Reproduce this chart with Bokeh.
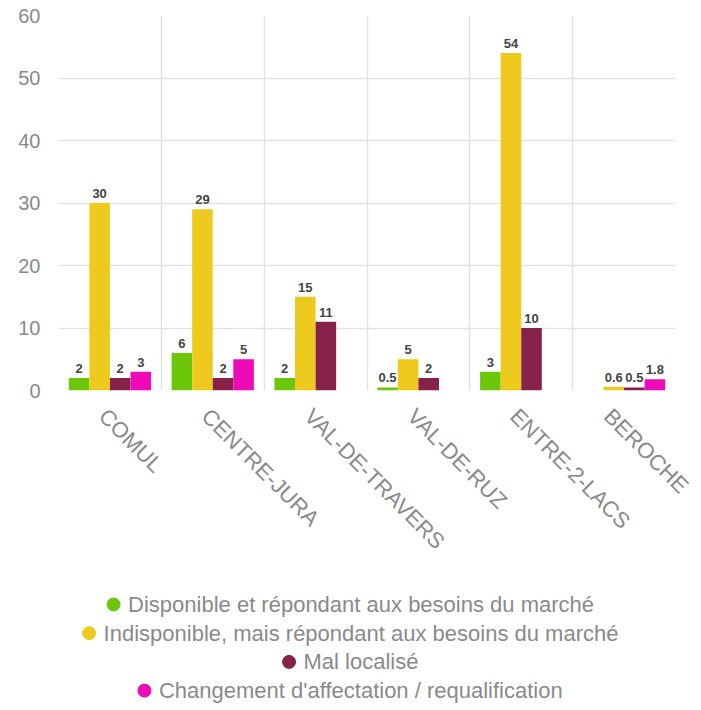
import math
from bokeh.plotting import figure
from bokeh.layouts import column
from bokeh.models import (ColumnDataSource, FixedTicker, LabelSet, Range1d)
from bokeh.core.properties import value
from bokeh.embed import file_html
from bokeh.resources import INLINE
from bokeh.transform import dodge

regions = ["COMUL", "CENTRE-JURA", "VAL-DE-TRAVERS", "VAL-DE-RUZ",
           "ENTRE-2-LACS", "BEROCHE"]
disponible = [2, 6, 2, 0.5, 3, None]
indisponible = [30, 29, 15, 5, 54, 0.6]
mal_localise = [2, 2, 11, 2, 10, 0.5]
changement = [3, 5, None, None, None, 1.8]

series_names = ["Disponible et répondant aux besoins du marché",
                "Indisponible, mais répondant aux besoins du marché",
                "Mal localisé",
                "Changement d'affectation / requalification"]
series_values = [disponible, indisponible, mal_localise, changement]
colors = ["#6cc70a", "#efca1e", "#86214a", "#ef0ab8"]
y_ticks = [0, 10, 20, 30, 40, 50, 60]

FONT = "Liberation Sans"
GRID = "#e2e2e2"
TXT = "#8a8a8a"
LEFT, RIGHT, TOP = 58, 18, 15
FRAME_W, FRAME_H = 617, 375
W = LEFT + FRAME_W + RIGHT
MAIN_H = 590
LEG_H = 115

p = figure(width=W, height=MAIN_H, output_backend="svg",
           toolbar_location=None, x_range=Range1d(0, len(regions)),
           y_range=Range1d(0, 60), min_border_left=LEFT,
           min_border_right=RIGHT, min_border_top=TOP,
           min_border_bottom=MAIN_H - TOP - FRAME_H)
p.outline_line_color = None
p.background_fill_color = "white"
p.border_fill_color = "white"

centers = [i + 0.5 for i in range(len(regions))]
offsets = [-0.3, -0.1, 0.1, 0.3]
width = 0.2

for name, vals, col, off in zip(series_names, series_values, colors, offsets):
    xs = [c for c, v in zip(centers, vals) if v is not None]
    ys = [v for v in vals if v is not None]
    labels = [("%g" % v) for v in ys]
    src = ColumnDataSource(dict(x=xs, y=ys, label=labels))
    p.vbar(x=dodge("x", off), top="y", width=width, source=src,
           fill_color=col, line_color=None)
    ls = LabelSet(x=dodge("x", off), y="y", text="label", source=src,
                  text_align="center", text_baseline="bottom", y_offset=5,
                  text_font=value(FONT), text_font_size="13px",
                  text_font_style="bold", text_color="#444444")
    p.add_layout(ls)

# axes (labels nudged slightly left, as rotated labels in the reference)
LABEL_NUDGE = 0.07
label_ticks = [c - LABEL_NUDGE for c in centers]
p.xaxis.ticker = FixedTicker(ticks=label_ticks)
p.xaxis.major_label_overrides = {t: r for t, r in zip(label_ticks, regions)}
p.xaxis.major_label_orientation = -math.pi / 4
p.yaxis.ticker = FixedTicker(ticks=y_ticks)
for ax in (p.xaxis[0], p.yaxis[0]):
    ax.axis_line_color = None
    ax.major_tick_line_color = None
    ax.minor_tick_line_color = None
    ax.major_tick_out = 0
    ax.major_tick_in = 0
    ax.major_label_text_font = FONT
    ax.major_label_text_color = TXT
p.yaxis.major_label_text_font_size = "20px"
p.yaxis.major_label_standoff = 18
p.xaxis.major_label_text_font_size = "22px"
p.xaxis.major_label_standoff = 22

# grid
p.xgrid.ticker = FixedTicker(ticks=list(range(len(regions))))
p.xgrid.grid_line_color = GRID
p.xgrid.grid_line_width = 1.5
p.ygrid.ticker = FixedTicker(ticks=y_ticks)
p.ygrid.grid_line_color = GRID
p.ygrid.grid_line_width = 1.5

# ---- legend: one centred row per series (pixel coordinates) ----
ARIAL = {' ': 278, ',': 278, "'": 191, '/': 278, 'a': 556, 'b': 556,
         'c': 500, 'd': 556, 'e': 556, 'f': 278, 'g': 556, 'h': 556,
         'i': 222, 'j': 222, 'k': 500, 'l': 222, 'm': 833, 'n': 556,
         'o': 556, 'p': 556, 'q': 556, 'r': 333, 's': 500, 't': 278,
         'u': 556, 'v': 500, 'w': 722, 'x': 500, 'y': 500, 'z': 500,
         'é': 556, 'D': 722, 'I': 278, 'M': 833, 'C': 722}
LEG_FS = 22
DOT = 13
GAP = 8
CENTER_X = 350 - LEFT      # page centre, in frame pixels
ROW0, ROW_STEP = 14, 28.7


def text_w(s):
    return sum(ARIAL.get(ch, 556) for ch in s) / 1000 * LEG_FS


lg = figure(width=W, height=LEG_H, output_backend="svg",
            toolbar_location=None, x_range=Range1d(0, FRAME_W),
            y_range=Range1d(LEG_H, 0), min_border=0,
            min_border_left=LEFT, min_border_right=RIGHT)
lg.axis.visible = False
lg.grid.visible = False
lg.outline_line_color = None

tx, cx, ry = [], [], []
for i, name in enumerate(series_names):
    w = text_w(name)
    total = DOT + GAP + w
    left = CENTER_X - total / 2
    cx.append(left + DOT / 2)
    tx.append(left + DOT + GAP)
    ry.append(ROW0 + i * ROW_STEP)
lsrc = ColumnDataSource(dict(cx=cx, tx=tx, y=ry, name=series_names,
                             color=colors))
lg.scatter(x="cx", y="y", source=lsrc, marker="circle", size=DOT,
           fill_color="color", line_color="color")
lg.text(x="tx", y="y", text="name", source=lsrc, text_align="left",
        text_baseline="middle", text_font=value(FONT),
        text_font_size="%dpx" % LEG_FS, text_color=TXT)

layout = column(p, lg, spacing=0)
open("out.html", "w").write(file_html(layout, INLINE))
